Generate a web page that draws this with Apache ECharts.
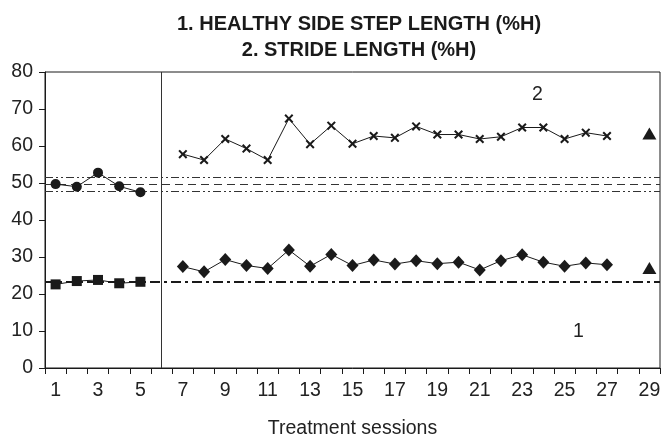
<!DOCTYPE html>
<html>
<head>
<meta charset="utf-8">
<script src="https://cdn.jsdelivr.net/npm/echarts@6/dist/echarts.min.js"></script>
<style>
  html, body { margin: 0; padding: 0; background: #fff; }
  #chart { width: 667px; height: 444px; }
</style>
</head>
<body>
<div id="chart"></div>
<script>
// Treatment session numbers on the category axis
const sessions = ['1','2','3','4','5','6','7','8','9','10','11','12','13','14','15',
  '16','17','18','19','20','21','22','23','24','25','26','27','28','29'];

// 2. Stride length (%H)
const strideBaselineSessions = ['1','2','3','4','5'];
const strideBaseline = [49.7, 49.0, 52.8, 49.1, 47.5];
const treatmentSessions = ['7','8','9','10','11','12','13','14','15','16','17','18','19',
  '20','21','22','23','24','25','26','27'];
const strideTreatment = [57.8, 56.2, 61.9, 59.3, 56.2, 67.4, 60.5, 65.5, 60.6, 62.7, 62.2,
  65.3, 63.1, 63.1, 61.9, 62.5, 65.0, 65.0, 61.9, 63.6, 62.7];
const followUpSession = '29';
const strideFollowUp = 63.4;

// 1. Healthy side step length (%H)
const stepBaseline = [22.6, 23.5, 23.8, 22.9, 23.3];
const stepTreatment = [27.4, 26.0, 29.3, 27.7, 26.9, 31.9, 27.5, 30.7, 27.7, 29.2, 28.1,
  29.0, 28.2, 28.6, 26.5, 29.0, 30.6, 28.6, 27.5, 28.4, 27.9];
const stepFollowUp = 27.0;

// Baseline reference levels: stride mean with its band, step-length mean
const strideBandLow = 47.7;
const strideMean = 49.6;
const strideBandHigh = 51.5;
const stepMean = 23.4;

// Phase change between baseline and treatment
const phaseChangeSession = '6';

const yTicks = { min: 0, max: 80, interval: 10 };

const ink = '#1a1a1a';
const font = 'Liberation Sans, Arial, sans-serif';
const pairs = (xs, ys) => xs.map((x, i) => [x, ys[i]]);
const crossPath = 'path://M0,1.6L1.6,0L5,3.4L8.4,0L10,1.6L6.6,5L10,8.4L8.4,10L5,6.6L1.6,10L0,8.4L3.4,5Z';

const chart = echarts.init(document.getElementById('chart'), null, { renderer: 'canvas' });

const lineBase = {
  type: 'line',
  lineStyle: { color: ink, width: 1 },
  itemStyle: { color: ink, opacity: 1 },
  emphasis: { disabled: true },
  z: 5
};

chart.setOption({
  animation: false,
  backgroundColor: '#fff',
  title: {
    text: '1. HEALTHY SIDE STEP LENGTH (%H)\n2. STRIDE LENGTH (%H)',
    left: 354,
    top: 6,
    textAlign: 'center',
    textStyle: {
      fontFamily: font,
      fontSize: 20,
      fontWeight: 'bold',
      color: ink,
      lineHeight: 26
    }
  },
  grid: {
    left: 45, right: 7, top: 72, bottom: 73,
    show: true, borderColor: ink, borderWidth: 1, backgroundColor: 'transparent'
  },
  xAxis: {
    type: 'category',
    data: sessions,
    boundaryGap: true,
    name: 'Treatment sessions',
    nameLocation: 'middle',
    nameGap: 51,
    nameTextStyle: { fontFamily: font, fontSize: 19.5, color: '#222' },
    axisLine: { lineStyle: { color: ink, width: 1 } },
    axisTick: { show: true, interval: 0, length: 6, lineStyle: { color: ink } },
    axisLabel: {
      interval: 1,
      margin: 13,
      fontFamily: font,
      fontSize: 19.5,
      color: '#222'
    },
    splitLine: { show: false }
  },
  yAxis: {
    type: 'value',
    min: yTicks.min,
    max: yTicks.max,
    interval: yTicks.interval,
    axisLine: { show: true, lineStyle: { color: ink, width: 1 } },
    axisTick: { show: true, length: 6, lineStyle: { color: ink } },
    axisLabel: {
      margin: 12,
      fontFamily: font,
      fontSize: 19.5,
      color: '#222'
    },
    splitLine: { show: false }
  },
  series: [
    // Reference levels and the phase-change divider
    {
      type: 'line',
      data: [],
      silent: true,
      markLine: {
        silent: true,
        symbol: 'none',
        label: { show: false },
        data: [
          { yAxis: strideBandHigh, lineStyle: { color: '#333', width: 1, type: [8, 3, 2, 3, 2, 3] } },
          { yAxis: strideMean, lineStyle: { color: '#333', width: 1, type: [8, 5] } },
          { yAxis: strideBandLow, lineStyle: { color: '#333', width: 1, type: [8, 3, 2, 3, 2, 3] } },
          { yAxis: stepMean, lineStyle: { color: ink, width: 2, type: [10, 4, 3, 4] } },
          { xAxis: phaseChangeSession, lineStyle: { color: '#333', width: 1, type: 'solid' } }
        ]
      }
    },
    // Stride length: baseline, treatment, follow-up
    Object.assign({}, lineBase, {
      data: pairs(strideBaselineSessions, strideBaseline),
      symbol: 'circle', symbolSize: 10
    }),
    Object.assign({}, lineBase, {
      data: pairs(treatmentSessions, strideTreatment),
      symbol: crossPath, symbolSize: 9
    }),
    {
      type: 'scatter',
      data: [[followUpSession, strideFollowUp]],
      symbol: 'triangle', symbolSize: [14, 12],
      itemStyle: { color: ink, opacity: 1 },
      emphasis: { disabled: true }
    },
    // Healthy side step length: baseline, treatment, follow-up
    Object.assign({}, lineBase, {
      data: pairs(strideBaselineSessions, stepBaseline),
      symbol: 'rect', symbolSize: 10
    }),
    Object.assign({}, lineBase, {
      data: pairs(treatmentSessions, stepTreatment),
      symbol: 'diamond', symbolSize: [12, 13]
    }),
    {
      type: 'scatter',
      data: [[followUpSession, stepFollowUp]],
      symbol: 'triangle', symbolSize: [14, 12],
      itemStyle: { color: ink, opacity: 1 },
      emphasis: { disabled: true }
    }
  ],
  graphic: [
    {
      type: 'text', left: 532, top: 85,
      style: { text: '2', font: '19.5px "Liberation Sans", Arial, sans-serif', fill: '#222' }
    },
    {
      type: 'text', left: 573, top: 322,
      style: { text: '1', font: '19.5px "Liberation Sans", Arial, sans-serif', fill: '#222' }
    }
  ]
});
</script>
</body>
</html>
